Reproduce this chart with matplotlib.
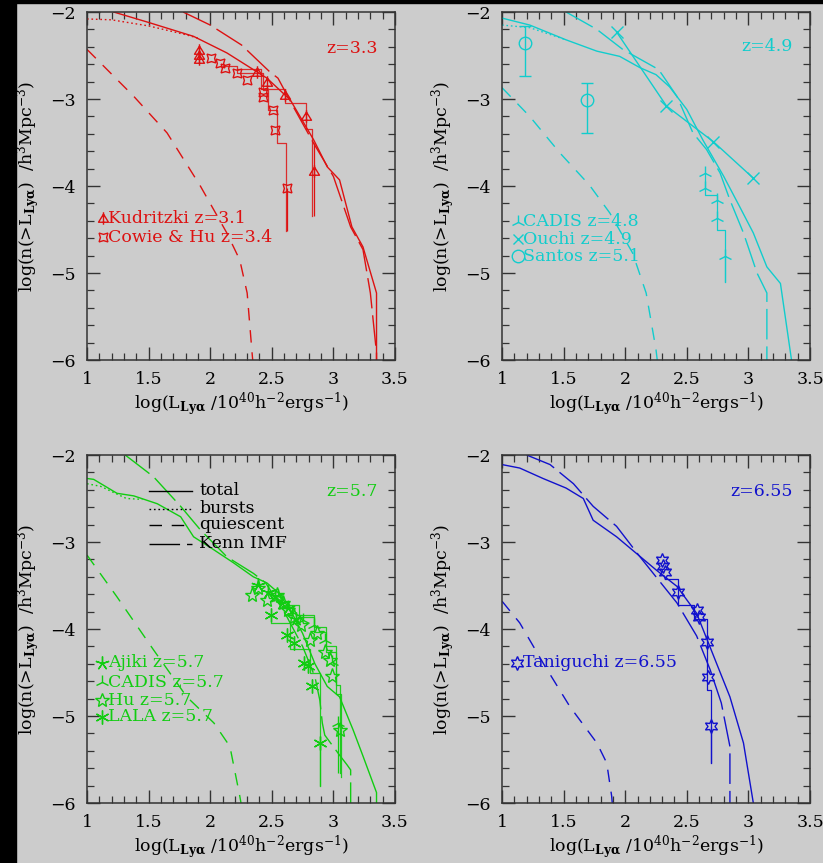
import matplotlib
matplotlib.use("Agg")
import matplotlib.pyplot as plt
from matplotlib.path import Path
from matplotlib.ticker import MultipleLocator, FuncFormatter
from matplotlib.patches import Rectangle

plt.rcParams['font.family'] = ['DejaVu Serif']
plt.rcParams['mathtext.fontset'] = 'dejavuserif'

BG = '#cccccc'
RED, CYAN, GREEN, BLUE = '#dd1111', '#11cccc', '#11cc11', '#1111cc'

# ---------------- panel 1 : z=3.3 ----------------
p1_total_x = [1.216, 1.5, 1.865, 2.135, 2.46, 2.65, 2.84, 2.95, 3.05, 3.15, 3.24, 3.35, 3.35]
p1_total_y = [-2.0, -2.12, -2.28, -2.47, -2.76, -3.01, -3.47, -3.78, -3.93, -4.47, -4.70, -5.23, -6.0]
p1_burst_x = [1.0, 1.2, 1.5, 1.8, 1.9]
p1_burst_y = [-2.08, -2.09, -2.16, -2.26, -2.30]
p1_quies_x = [1.0, 1.38, 1.65, 1.92, 2.135, 2.24, 2.30, 2.34, 2.345]
p1_quies_y = [-2.43, -2.97, -3.39, -4.0, -4.54, -4.85, -5.23, -5.92, -6.0]
p1_kenn_x = [1.78, 2.0, 2.255, 2.485, 2.55, 2.675, 2.84, 3.0, 3.14, 3.24, 3.30, 3.35, 3.35]
p1_kenn_y = [-2.0, -2.15, -2.38, -2.69, -2.76, -3.09, -3.51, -3.89, -4.47, -4.73, -5.23, -5.92, -6.0]
kud_x = [1.91, 1.91, 1.91, 2.38, 2.46, 2.61, 2.78, 2.84]
kud_y = [-2.44, -2.49, -2.54, -2.69, -2.80, -2.95, -3.20, -3.83]
kud_err_lo = [0, 0, 0, 0, 0, 0, 0, 0.52]
kud_err_hi = [0, 0, 0, 0, 0, 0, 0, 0.33]
kud_step_x = [2.22, 2.41, 2.61, 2.78, 2.83]
kud_step_y = [-2.65, -2.88, -3.05, -3.35, -4.35]
cow_x = [2.01, 2.08, 2.12, 2.22, 2.30, 2.43, 2.43, 2.51, 2.53, 2.62]
cow_y = [-2.53, -2.59, -2.64, -2.70, -2.78, -2.92, -2.98, -3.13, -3.36, -4.02]
cow_err_lo = [0, 0, 0, 0, 0, 0, 0, 0, 0, 0.50]
cow_step_x = [2.10, 2.22, 2.43, 2.47, 2.545, 2.615]
cow_step_y = [-2.62, -2.70, -2.90, -3.13, -3.51, -4.52]

# ---------------- panel 2 : z=4.9 ----------------
p2_total_x = [1.0, 1.225, 1.52, 1.77, 1.955, 2.12, 2.25, 2.36, 2.50, 2.63, 2.80, 2.93, 3.04, 3.15, 3.26, 3.35]
p2_total_y = [-2.07, -2.15, -2.32, -2.45, -2.51, -2.64, -2.72, -2.86, -3.12, -3.47, -3.89, -4.24, -4.54, -4.93, -5.12, -6.0]
p2_burst_x = [1.0, 1.225, 1.52]
p2_burst_y = [-2.15, -2.18, -2.32]
p2_quies_x = [1.0, 1.225, 1.47, 1.71, 1.875, 2.06, 2.17, 2.25, 2.26]
p2_quies_y = [-2.87, -3.20, -3.62, -3.99, -4.31, -4.77, -5.23, -5.88, -6.0]
p2_kenn_x = [1.52, 1.77, 1.98, 2.27, 2.30, 2.42, 2.55, 2.66, 2.77, 2.85, 2.96, 3.07, 3.15, 3.15]
p2_kenn_y = [-2.0, -2.2, -2.43, -2.66, -2.72, -2.97, -3.39, -3.58, -3.85, -4.16, -4.54, -5.0, -5.23, -6.0]
ouchi_x = [1.93, 2.335, 2.715, 3.04]
ouchi_y = [-2.23, -3.08, -3.49, -3.91]
santos_x = [1.19, 1.69]
santos_y = [-2.36, -3.01]
santos_err_lo = [0.37, 0.38]
santos_err_hi = [0.20, 0.19]
cad48_x = [2.647, 2.647, 2.747, 2.747, 2.809]
cad48_y = [-3.85, -4.02, -4.16, -4.37, -4.81]
cad48_err_lo = [0, 0, 0, 0, 0.29]
cad48_step_x = [2.647, 2.647, 2.747, 2.809]
cad48_step_y = [-3.85, -4.10, -4.50, -5.10]

# ---------------- panel 3 : z=5.7 ----------------
p3_total_x = [1.0, 1.054, 1.243, 1.38, 1.57, 1.76, 1.865, 2.03, 2.19, 2.35, 2.46, 2.55, 2.65, 2.75, 2.85, 2.95, 3.05, 3.16, 3.24, 3.35, 3.35]
p3_total_y = [-2.27, -2.28, -2.44, -2.47, -2.56, -2.71, -2.94, -3.09, -3.24, -3.40, -3.47, -3.58, -3.78, -4.05, -4.40, -4.66, -4.78, -5.16, -5.46, -5.88, -6.0]
p3_burst_x = [1.0, 1.11, 1.32, 1.45]
p3_burst_y = [-2.33, -2.36, -2.50, -2.51]
p3_quies_x = [1.0, 1.243, 1.54, 1.81, 2.03, 2.16, 2.24, 2.25]
p3_quies_y = [-3.15, -3.63, -4.24, -4.78, -5.08, -5.35, -5.92, -6.0]
p3_kenn_x = [1.31, 1.54, 1.76, 1.92, 2.135, 2.35, 2.45, 2.60, 2.75, 2.85, 2.89, 2.91, 2.93, 3.05, 3.11, 3.14, 3.14]
p3_kenn_y = [-2.0, -2.25, -2.59, -2.86, -3.17, -3.36, -3.47, -3.80, -4.20, -4.55, -4.82, -5.08, -5.22, -5.45, -5.56, -5.62, -6.0]
ajiki_x = [2.39, 2.47, 2.53, 2.58, 2.63, 2.70]
ajiki_y = [-3.49, -3.57, -3.62, -3.70, -3.76, -3.88]
cad57_x = [2.55, 2.66, 2.75, 2.84, 2.93, 2.985, 3.04]
cad57_y = [-3.62, -3.80, -3.90, -3.95, -4.13, -4.38, -5.08]
cad57_err_lo = [0, 0, 0, 0, 0, 0, 0.58]
cad57_step_x = [2.60, 2.72, 2.84, 2.94, 3.02, 3.06]
cad57_step_y = [-3.72, -3.86, -3.98, -4.20, -4.75, -5.70]
hu_x = [2.34, 2.39, 2.46, 2.54, 2.59, 2.63, 2.68, 2.74, 2.81, 2.87, 2.93, 2.97, 2.99, 3.05]
hu_y = [-3.61, -3.53, -3.67, -3.61, -3.70, -3.78, -3.86, -3.95, -4.13, -4.05, -4.26, -4.36, -4.54, -5.16]
hu_step_x = [2.74, 2.84, 2.94, 3.02, 3.05]
hu_step_y = [-3.84, -4.03, -4.27, -4.64, -5.66]
lala_x = [2.49, 2.62, 2.68, 2.76, 2.79, 2.83, 2.89]
lala_y = [-3.84, -4.07, -4.16, -4.39, -4.43, -4.66, -5.31]
lala_err_lo = [0, 0, 0, 0, 0, 0, 0.49]
lala_step_x = [2.49, 2.65, 2.81, 2.89]
lala_step_y = [-3.93, -4.23, -4.51, -5.81]

# ---------------- panel 4 : z=6.55 ----------------
p4_total_x = [1.0, 1.144, 1.333, 1.52, 1.66, 1.74, 1.93, 2.09, 2.25, 2.42, 2.58, 2.74, 2.85, 2.96, 3.04]
p4_total_y = [-2.11, -2.15, -2.27, -2.38, -2.50, -2.75, -2.94, -3.13, -3.32, -3.51, -3.82, -4.39, -4.78, -5.31, -6.0]
p4_quies_x = [1.0, 1.144, 1.333, 1.55, 1.77, 1.85, 1.89, 1.895]
p4_quies_y = [-3.68, -3.93, -4.39, -4.89, -5.31, -5.54, -5.92, -6.0]
p4_kenn_x = [1.2, 1.39, 1.58, 1.74, 1.93, 2.12, 2.25, 2.42, 2.58, 2.69, 2.78, 2.85, 2.85]
p4_kenn_y = [-2.0, -2.11, -2.33, -2.59, -2.82, -3.17, -3.40, -3.70, -4.08, -4.47, -4.85, -5.35, -6.0]
tani_x = [2.296, 2.31, 2.32, 2.43, 2.58, 2.60, 2.66, 2.67, 2.70]
tani_y = [-3.21, -3.28, -3.34, -3.58, -3.78, -3.86, -4.15, -4.55, -5.12]
tani_err_lo = [0, 0, 0, 0, 0, 0, 0, 0, 0.42]
tani_step_x = [2.32, 2.43, 2.56, 2.66, 2.70]
tani_step_y = [-3.42, -3.72, -3.89, -4.70, -5.54]

x_ticks = [1, 1.5, 2, 2.5, 3, 3.5]
y_ticks = [-2, -3, -4, -5, -6]

XLABEL = r'log(L$_{\mathbf{Ly\alpha}}$ /10$^{40}$h$^{-2}$ergs$^{-1}$)'
YLABEL = r'log(n(>L$_{\mathbf{Ly\alpha}}$)  /h$^3$Mpc$^{-3}$)'

# custom markers
kud_marker = Path([(-0.8, -0.6), (0, 0.7), (0.8, -0.6), (-0.8, -0.6), (0, -1.0), (0, 1.0)],
                  [Path.MOVETO, Path.LINETO, Path.LINETO, Path.CLOSEPOLY, Path.MOVETO, Path.LINETO])

SOLID = '-'
DOTTED = (0, (1.2, 2.0))
QUIES = (0, (9, 7))
KENN = (0, (22, 5))

fig = plt.figure(figsize=(8.23, 8.63), dpi=100, facecolor=BG)
fig.patches.append(Rectangle((0, 0), 16 / 823, 1, transform=fig.transFigure, color='black', zorder=-5))
fig.patches.append(Rectangle((0, 1 - 3 / 863), 1, 3 / 863, transform=fig.transFigure, color='black', zorder=-5))

W = 308 / 823
H = 348 / 863
positions = [(87 / 823, 1 - 360 / 863), (502 / 823, 1 - 360 / 863),
             (87 / 823, 1 - 803 / 863), (502 / 823, 1 - 803 / 863)]


def fmt(v, pos):
    return ('%g' % v).replace('-', '\u2212')


def setup(ax):
    ax.set_facecolor(BG)
    ax.set_xlim(1, 3.5)
    ax.set_ylim(-6, -2)
    ax.set_xticks(x_ticks)
    ax.set_yticks(y_ticks)
    ax.xaxis.set_minor_locator(MultipleLocator(0.1))
    ax.yaxis.set_minor_locator(MultipleLocator(0.2))
    ax.xaxis.set_major_formatter(FuncFormatter(fmt))
    ax.yaxis.set_major_formatter(FuncFormatter(fmt))
    ax.tick_params(which='both', direction='in', top=True, right=True, color='#333333')
    ax.tick_params(which='major', length=9.5, width=1.0, labelsize=12.5, pad=8)
    ax.tick_params(which='minor', length=4.8, width=0.9)
    for s in ax.spines.values():
        s.set_color('#333333')
        s.set_linewidth(1.1)
    ax.set_xlabel(XLABEL, fontsize=12.5, va='center')
    ax.set_ylabel(YLABEL, fontsize=12.5, va='center')
    ax.xaxis.set_label_coords(0.5, -0.127)
    ax.yaxis.set_label_coords(-0.19, 0.5)


def curves(ax, c, tx, ty, bx, by, qx, qy, kx, ky):
    ax.plot(tx, ty, color=c, lw=1.0, ls=SOLID)
    if bx is not None:
        ax.plot(bx, by, color=c, lw=1.0, ls=DOTTED)
    ax.plot(qx, qy, color=c, lw=1.0, ls=QUIES)
    ax.plot(kx, ky, color=c, lw=1.0, ls=KENN)


axes = [fig.add_axes([p[0], p[1], W, H]) for p in positions]
for ax in axes:
    setup(ax)

# ---- panel 1
ax = axes[0]
curves(ax, RED, p1_total_x, p1_total_y, p1_burst_x, p1_burst_y, p1_quies_x, p1_quies_y, p1_kenn_x, p1_kenn_y)
ax.step(kud_step_x, kud_step_y, where='post', color=RED, lw=0.9, alpha=0.85)
ax.step(cow_step_x, cow_step_y, where='post', color=RED, lw=0.9, alpha=0.85)
ax.errorbar(kud_x, kud_y, yerr=[kud_err_lo, kud_err_hi], fmt='none', ecolor=RED, elinewidth=0.9)
ax.errorbar(cow_x, cow_y, yerr=[cow_err_lo, [0] * len(cow_x)], fmt='none', ecolor=RED, elinewidth=0.9)
ax.plot(kud_x, kud_y, ls='none', marker=kud_marker, ms=9, mec=RED, mfc='none', mew=1.0)
ax.plot(cow_x, cow_y, ls='none', marker=(4, 1, 45), ms=9, mec=RED, mfc='none', mew=1.0)
ax.plot([1.13], [-4.37], marker=kud_marker, ms=9, mec=RED, mfc='none', mew=1.0)
ax.text(1.17, -4.37, 'Kudritzki z=3.1', color=RED, fontsize=12.5, va='center')
ax.plot([1.13], [-4.59], marker=(4, 1, 45), ms=9, mec=RED, mfc='none', mew=1.0)
ax.text(1.17, -4.59, 'Cowie & Hu z=3.4', color=RED, fontsize=12.5, va='center')
ax.text(3.36, -2.42, 'z=3.3', color=RED, fontsize=12.5, ha='right', va='center')

# ---- panel 2
ax = axes[1]
curves(ax, CYAN, p2_total_x, p2_total_y, p2_burst_x, p2_burst_y, p2_quies_x, p2_quies_y, p2_kenn_x, p2_kenn_y)
ax.plot(ouchi_x, ouchi_y, color=CYAN, lw=1.0, marker='x', ms=8, mew=1.0)
ax.errorbar(santos_x, santos_y, yerr=[santos_err_lo, santos_err_hi], fmt='o', ms=9, mfc='none',
            mec=CYAN, mew=1.0, ecolor=CYAN, elinewidth=1.0, capsize=4.5, capthick=1.0)
ax.step(cad48_step_x, cad48_step_y, where='post', color=CYAN, lw=0.9)
ax.errorbar(cad48_x, cad48_y, yerr=[cad48_err_lo, [0] * len(cad48_x)], fmt='2', ms=10,
            mec=CYAN, mew=1.0, ecolor=CYAN, elinewidth=0.9)
ax.plot([1.13], [-4.41], marker='2', ms=10, mec=CYAN, mew=1.0)
ax.text(1.17, -4.41, 'CADIS z=4.8', color=CYAN, fontsize=12.5, va='center')
ax.plot([1.13], [-4.61], marker='x', ms=7, mec=CYAN, mew=1.0)
ax.text(1.17, -4.61, 'Ouchi z=4.9', color=CYAN, fontsize=12.5, va='center')
ax.plot([1.13], [-4.81], marker='o', ms=9, mec=CYAN, mfc='none', mew=1.0)
ax.text(1.17, -4.81, 'Santos z=5.1', color=CYAN, fontsize=12.5, va='center')
ax.text(3.36, -2.40, 'z=4.9', color=CYAN, fontsize=12.5, ha='right', va='center')

# ---- panel 3
ax = axes[2]
curves(ax, GREEN, p3_total_x, p3_total_y, p3_burst_x, p3_burst_y, p3_quies_x, p3_quies_y, p3_kenn_x, p3_kenn_y)
ax.step(lala_step_x, lala_step_y, where='post', color=GREEN, lw=0.9, alpha=0.9)
ax.step(hu_step_x, hu_step_y, where='post', color=GREEN, lw=0.9, alpha=0.9)
ax.step(cad57_step_x, cad57_step_y, where='post', color=GREEN, lw=0.9, alpha=0.9)
ax.errorbar(lala_x, lala_y, yerr=[lala_err_lo, [0] * len(lala_x)], fmt='none', ecolor=GREEN, elinewidth=0.9)
ax.errorbar(cad57_x, cad57_y, yerr=[cad57_err_lo, [0] * len(cad57_x)], fmt='none', ecolor=GREEN, elinewidth=0.9)
ax.plot(hu_x, hu_y, ls='none', marker='*', ms=11, mec=GREEN, mfc='none', mew=1.0)
ax.plot(ajiki_x, ajiki_y, ls='none', marker=(5, 2, 0), ms=10, mec=GREEN, mew=1.0)
ax.plot(lala_x, lala_y, ls='none', marker=(6, 2, 0), ms=10, mec=GREEN, mew=1.0)
ax.plot(cad57_x, cad57_y, ls='none', marker='2', ms=10, mec=GREEN, mew=1.0)
leg_rows = [(-4.39, (5, 2, 0), 'Ajiki z=5.7', None),
            (-4.61, '2', 'CADIS z=5.7', None),
            (-4.82, '*', 'Hu z=5.7', 'none'),
            (-5.01, (6, 2, 0), 'LALA z=5.7', None)]
for yy, mk, lab, mf in leg_rows:
    kw = dict(mfc=mf) if mf else {}
    ax.plot([1.12], [yy], marker=mk, ms=10, mec=GREEN, mew=1.0, **kw)
    ax.text(1.17, yy, lab, color=GREEN, fontsize=12.5, va='center')
ax.text(3.36, -2.42, 'z=5.7', color=GREEN, fontsize=12.5, ha='right', va='center')
# line-style key
key_rows = [(-2.41, SOLID, 'total'), (-2.62, DOTTED, 'bursts'),
            (-2.80, QUIES, 'quiescent'), (-3.02, KENN, 'Kenn IMF')]
for yy, ls, lab in key_rows:
    ax.plot([1.50, 1.85], [yy, yy], color='black', lw=1.0, ls=ls)
    ax.text(1.91, yy, lab, color='black', fontsize=12.5, va='center')

# ---- panel 4
ax = axes[3]
curves(ax, BLUE, p4_total_x, p4_total_y, None, None, p4_quies_x, p4_quies_y, p4_kenn_x, p4_kenn_y)
ax.step(tani_step_x, tani_step_y, where='post', color=BLUE, lw=0.9)
ax.errorbar(tani_x, tani_y, yerr=[tani_err_lo, [0] * len(tani_x)], fmt='none', ecolor=BLUE, elinewidth=0.9)
ax.plot(tani_x, tani_y, ls='none', marker=(6, 1, 0), ms=10, mec=BLUE, mfc='none', mew=1.0)
ax.plot([1.12], [-4.39], marker=(6, 1, 0), ms=10, mec=BLUE, mfc='none', mew=1.0)
ax.text(1.17, -4.39, 'Taniguchi z=6.55', color=BLUE, fontsize=12.5, va='center')
ax.text(3.36, -2.42, 'z=6.55', color=BLUE, fontsize=12.5, ha='right', va='center')

fig.savefig('out.png', dpi=100, facecolor=BG)
